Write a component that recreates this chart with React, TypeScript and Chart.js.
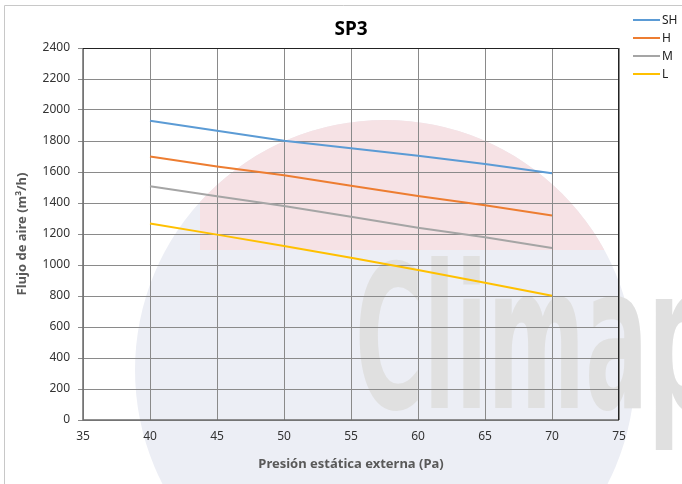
import React, { useEffect, useRef } from "react";
import { Chart, registerables } from "chart.js";

Chart.register(...registerables);

const pressures = [40, 45, 50, 55, 60, 65, 70];
const seriesSH = [1930, 1866, 1802, 1753, 1705, 1652, 1592];
const seriesH = [1700, 1635, 1579, 1512, 1445, 1385, 1320];
const seriesM = [1508, 1443, 1381, 1312, 1241, 1179, 1110];
const seriesL = [1268, 1196, 1123, 1047, 968, 886, 802];
const seriesNames = ["SH", "H", "M", "L"];
const seriesColors = ["#5b9bd5", "#ed7d31", "#a5a5a5", "#ffc000"];
const titleText = "SP3";
const xTitle = "Presión estática externa (Pa)";
const yTitle = "Flujo de aire (m³/h)";
const FONT = '"Noto Sans", "Open Sans", sans-serif';

const decorPlugin = {
  id: "decor",
  beforeDraw(chart: any) {
    const ctx = chart.ctx;
    ctx.save();
    // faint watermark
    ctx.beginPath();
    ctx.arc(385, 370, 250, 0, Math.PI * 2);
    ctx.clip();
    ctx.fillStyle = "#eceef5";
    ctx.fillRect(0, 0, 682, 484);
    ctx.fillStyle = "#f6e2e5";
    ctx.fillRect(200, 0, 420, 250);
    ctx.restore();
    ctx.save();
    ctx.fillStyle = "#e0e0e0";
    ctx.font = 'bold 200px "DejaVu Sans Condensed", "DejaVu Sans", sans-serif';
    ctx.textBaseline = "alphabetic";
    ctx.textAlign = "left";
    ctx.fillText("Climap", 355, 408, 360);
    ctx.restore();
    // outer frame
    ctx.save();
    ctx.strokeStyle = "#c8c8c8";
    ctx.lineWidth = 1;
    ctx.beginPath();
    ctx.moveTo(4.5, 484);
    ctx.lineTo(4.5, 5.5);
    ctx.lineTo(682, 5.5);
    ctx.stroke();
    ctx.restore();
  },
  beforeDatasetsDraw(chart: any) {
    const ctx = chart.ctx;
    const a = chart.chartArea;
    ctx.save();
    ctx.lineWidth = 1.5;
    ctx.strokeStyle = "#6e6e6e";
    ctx.beginPath();
    ctx.moveTo(a.left, a.top);
    ctx.lineTo(a.left, a.bottom);
    ctx.lineTo(a.right, a.bottom);
    ctx.stroke();
    ctx.lineWidth = 1;
    ctx.strokeStyle = "#222222";
    ctx.beginPath();
    ctx.moveTo(a.left, a.top + 0.5);
    ctx.lineTo(a.right - 0.5, a.top + 0.5);
    ctx.lineTo(a.right - 0.5, a.bottom);
    ctx.stroke();
    ctx.restore();
  },
  afterDraw(chart: any) {
    const ctx = chart.ctx;
    const a = chart.chartArea;
    ctx.save();
    ctx.fillStyle = "#000000";
    ctx.font = `bold 19px ${FONT}`;
    ctx.textAlign = "center";
    ctx.textBaseline = "middle";
    ctx.fillText(titleText, (a.left + a.right) / 2, 30);
    ctx.font = `12px ${FONT}`;
    ctx.textAlign = "left";
    chart.data.datasets.forEach((ds: any, i: number) => {
      const y = 20 + i * 18;
      ctx.strokeStyle = ds.borderColor;
      ctx.lineWidth = 2;
      ctx.beginPath();
      ctx.moveTo(633, y);
      ctx.lineTo(660, y);
      ctx.stroke();
      ctx.fillStyle = "#222222";
      ctx.fillText(ds.label, 662, y + 1);
    });
    ctx.restore();
  },
};

export default function App() {
  const ref = useRef<HTMLCanvasElement>(null);
  useEffect(() => {
    const allSeries = [seriesSH, seriesH, seriesM, seriesL];
    const chart = new Chart(ref.current as HTMLCanvasElement, {
      type: "line",
      data: {
        datasets: allSeries.map((vals, i) => ({
          label: seriesNames[i],
          data: pressures.map((x, j) => ({ x, y: vals[j] })),
          borderColor: seriesColors[i],
          backgroundColor: seriesColors[i],
          borderWidth: 2,
          pointRadius: 0,
          tension: 0,
          fill: false,
        })),
      },
      options: {
        animation: false,
        responsive: true,
        maintainAspectRatio: false,
        layout: { padding: { top: 48, right: 63, left: 0, bottom: 0 } },
        plugins: {
          legend: { display: false },
          title: { display: false },
          tooltip: { enabled: false },
        },
        scales: {
          x: {
            type: "linear",
            min: 35,
            max: 75,
            afterFit: (s: any) => {
              s.height = 64;
            },
            ticks: {
              stepSize: 5,
              padding: 9,
              color: "#333333",
              font: { family: FONT, size: 12 },
              callback: (v: any) => String(v),
            },
            grid: { color: "#8a8a8a", lineWidth: 1, drawTicks: false },
            border: { display: false },
            title: {
              display: true,
              text: xTitle,
              color: "#595959",
              font: { family: FONT, size: 13, weight: "bold" },
              padding: { top: 0, bottom: 12 },
            },
          },
          y: {
            min: 0,
            max: 2400,
            afterFit: (s: any) => {
              s.width = 83;
            },
            ticks: {
              stepSize: 200,
              padding: 8,
              color: "#333333",
              font: { family: FONT, size: 12 },
              callback: (v: any) => String(v),
            },
            grid: { color: "#8a8a8a", lineWidth: 1, drawTicks: true, tickLength: 5, tickColor: "#8a8a8a" },
            border: { display: false },
            title: {
              display: true,
              text: yTitle,
              color: "#595959",
              font: { family: FONT, size: 13, weight: "bold" },
              padding: { top: 14, bottom: 0 },
            },
          },
        },
      },
      plugins: [decorPlugin],
    });
    return () => chart.destroy();
  }, []);
  return (
    <div style={{ position: "absolute", left: 0, top: 0, width: 682, height: 484, background: "#ffffff" }}>
      <canvas ref={ref} />
    </div>
  );
}
